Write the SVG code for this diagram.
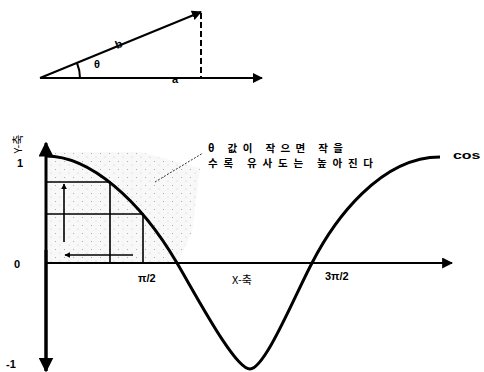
<svg xmlns="http://www.w3.org/2000/svg" width="484" height="372" viewBox="0 0 484 372">
<style>
.ln{stroke:#000;fill:none}
.lbl{font-family:"Liberation Sans","Noto Sans CJK KR",sans-serif;font-weight:bold;font-size:11px;fill:#000}
.kr{font-family:"Noto Sans CJK KR","Liberation Sans",sans-serif;font-size:11px;fill:#000}
.note{font-family:"Noto Sans CJK KR","Liberation Sans",sans-serif;font-size:10.5px;font-weight:bold;fill:#000}
</style>
<defs>
<marker id="ah" viewBox="0 0 10 10" refX="9" refY="5" markerWidth="6" markerHeight="6" markerUnits="userSpaceOnUse" orient="auto"><path d="M0,0 L10,5 L0,10 Z" fill="#000"/></marker>
<marker id="ahBig" viewBox="0 0 10 10" refX="9" refY="5" markerWidth="5" markerHeight="5" orient="auto"><path d="M0,0 L10,5 L0,10 Z" fill="#000"/></marker>
<pattern id="dots" width="9" height="8" patternUnits="userSpaceOnUse">
<rect width="9" height="8" fill="#f8f8f8"/>
<circle cx="1.5" cy="1.5" r="0.55" fill="#a0a0a0"/>
<circle cx="6" cy="5" r="0.5" fill="#b8b8b8"/>
</pattern>
</defs>

<!-- shaded region -->
<g id="shade">
<path d="M46,152 L140,152 L200,168 L192,232 L178,263 L46,263 Z" fill="url(#dots)"/>
</g>

<!-- top vector triangle -->
<g id="triangle">
<line class="ln" x1="40" y1="78" x2="262" y2="78" stroke-width="2" marker-end="url(#ahBig)"/>
<line class="ln" x1="40" y1="78" x2="201" y2="12" stroke-width="2" marker-end="url(#ahBig)"/>
<line class="ln" x1="201" y1="13" x2="201" y2="78" stroke-width="2" stroke-dasharray="6,3"/>
<path class="ln" d="M77,63 A40,40 0 0 1 80,78" stroke-width="2"/>
<text class="lbl" x="94" y="68" font-size="12">θ</text>
<text class="lbl" x="0" y="0" font-size="13" transform="translate(117,49) rotate(-22.4)">b</text>
<text class="lbl" x="172" y="83" font-size="13">a</text>
</g>

<!-- connectors: axes, grid, arrows -->
<g id="connectors">
<line class="ln" x1="46" y1="371" x2="46" y2="143" stroke-width="3" marker-end="url(#ahBig)"/>
<line class="ln" x1="46" y1="250" x2="46" y2="371" stroke-width="3" marker-end="url(#ahBig)"/>
<line class="ln" x1="46" y1="263" x2="452" y2="263" stroke-width="2.2" marker-end="url(#ahBig)"/>
<path class="ln" d="M46,182 H110 V263 M46,214 H143 V263" stroke-width="1.6"/>
<line class="ln" x1="64" y1="242" x2="64" y2="184" stroke-width="1.6" marker-end="url(#ah)"/>
<line class="ln" x1="133" y1="255" x2="65" y2="255" stroke-width="1.6" marker-end="url(#ah)"/>
<line class="ln" x1="155" y1="182" x2="203" y2="153" stroke-width="0.8" stroke-dasharray="2,1.5"/>
</g>

<!-- cosine curve -->
<g id="cos-curve">
<path class="ln" d="M46,156 C90,156 140,200 177,263 C197,297 235,369 250,369 C265,369 295,295 312,263 C334,220 380,157 440,157" stroke-width="3"/>
<text class="lbl" x="0" y="0" transform="translate(453,159) scale(1.45,1)">cos</text>
</g>

<!-- axis labels -->
<g id="labels">
<text class="kr" x="0" y="0" transform="translate(22,144) rotate(-90)" text-anchor="middle">Y-축</text>
<text class="lbl" x="17" y="167">1</text>
<text class="lbl" x="14" y="268">0</text>
<text class="lbl" x="6" y="368">-1</text>
<text class="lbl" x="138" y="282" font-size="12">π/2</text>
<text class="lbl" x="325" y="280" font-size="12">3π/2</text>
<text class="kr" x="232" y="284">X-축</text>
</g>

<!-- annotation -->
<g id="note">
<text class="note" x="208" y="152" textLength="135" lengthAdjust="spacing">θ 값이 작으면 작을</text>
<text class="note" x="208" y="167" textLength="165" lengthAdjust="spacing">수록 유사도는 높아진다</text>
</g>
</svg>
